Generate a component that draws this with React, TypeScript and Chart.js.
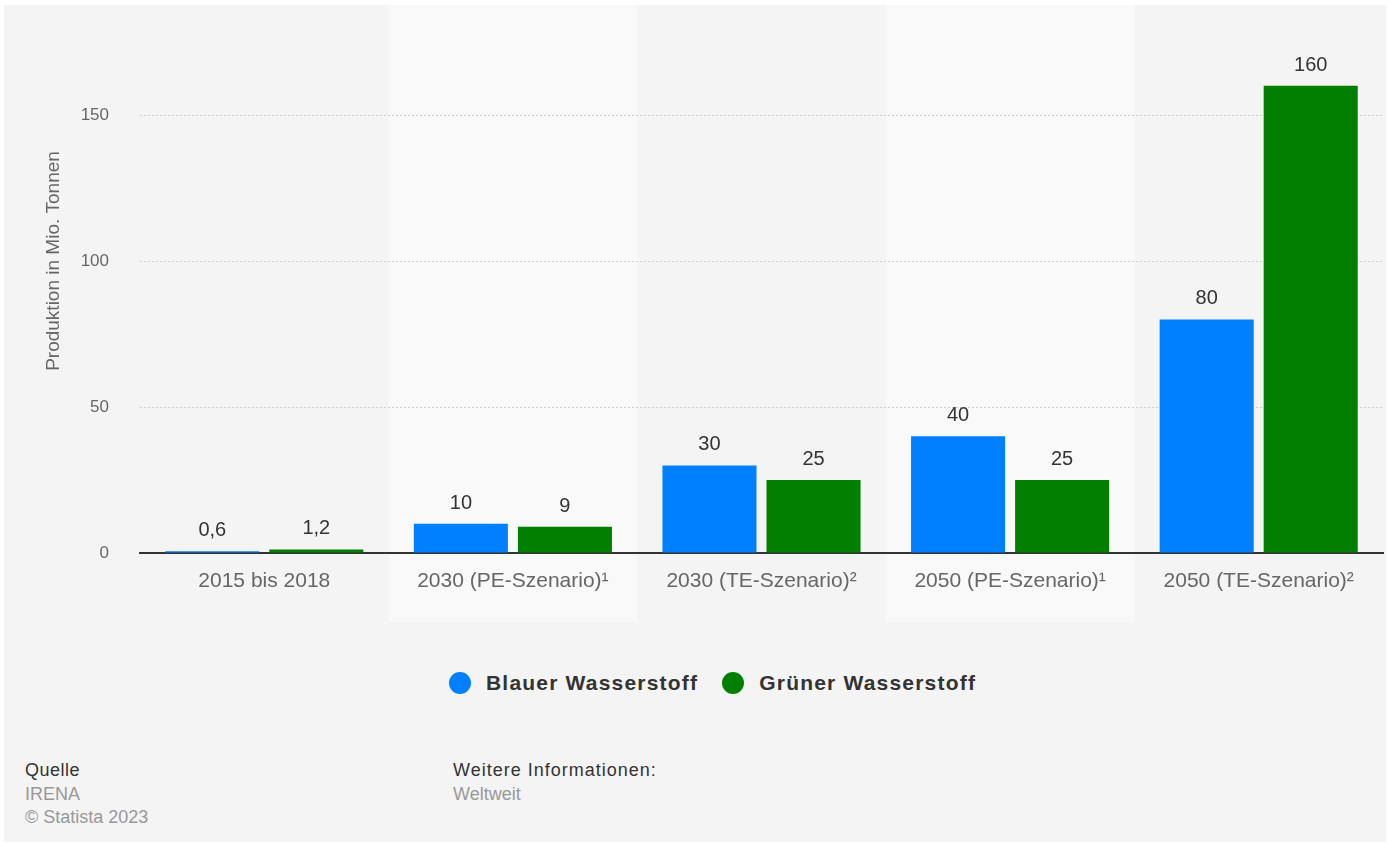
import React, { useEffect, useRef } from "react";
import { Chart, registerables } from "chart.js";

Chart.register(...registerables);

const categories = [
  "2015 bis 2018",
  "2030 (PE-Szenario)¹",
  "2030 (TE-Szenario)²",
  "2050 (PE-Szenario)¹",
  "2050 (TE-Szenario)²",
];
const blueValues = [0.6, 10, 30, 40, 80];
const greenValues = [1.2, 9, 25, 25, 160];
const yTickValues = [0, 50, 100, 150];
const seriesNames = ["Blauer Wasserstoff", "Grüner Wasserstoff"];
const seriesColors = ["#007fff", "#007f00"];
const yTitle = "Produktion in Mio. Tonnen";

const FONT = "'Liberation Sans', Arial, Helvetica, sans-serif";

const fmt = (v: number) => String(v).replace(".", ",");

const bandsPlugin = {
  id: "bands",
  beforeDraw(chart: any) {
    const { ctx, chartArea, scales } = chart;
    const x = scales.x;
    const n = categories.length;
    const w = (chartArea.right - chartArea.left) / n;
    ctx.save();
    for (let i = 0; i < n; i++) {
      if (i % 2 === 1) {
        const cx = x.getPixelForValue(i);
        ctx.fillStyle = "#f9f9f9";
        ctx.fillRect(cx - w / 2, 5, w, chartArea.bottom + 69 - 5);
      }
    }
    ctx.restore();
  },
};

const labelsPlugin = {
  id: "valueLabels",
  afterDatasetsDraw(chart: any) {
    const { ctx } = chart;
    ctx.save();
    ctx.font = `20px ${FONT}`;
    ctx.fillStyle = "#333333";
    ctx.textAlign = "center";
    ctx.textBaseline = "alphabetic";
    chart.data.datasets.forEach((ds: any, di: number) => {
      const meta = chart.getDatasetMeta(di);
      meta.data.forEach((bar: any, i: number) => {
        ctx.fillText(fmt(ds.data[i]), bar.x, bar.y - 15);
      });
    });
    ctx.restore();
  },
};

const yTitlePlugin = {
  id: "yTitle",
  afterDraw(chart: any) {
    const { ctx } = chart;
    ctx.save();
    ctx.translate(54, 261);
    ctx.rotate(-Math.PI / 2);
    ctx.font = `19px ${FONT}`;
    ctx.fillStyle = "#666666";
    ctx.textAlign = "center";
    ctx.textBaseline = "middle";
    ctx.fillText(yTitle, 0, 0);
    ctx.restore();
  },
};

function ChartCanvas() {
  const ref = useRef<HTMLCanvasElement | null>(null);
  useEffect(() => {
    if (!ref.current) return;
    const chart = new Chart(ref.current, {
      type: "bar",
      data: {
        labels: categories,
        datasets: [
          {
            label: seriesNames[0],
            data: blueValues,
            backgroundColor: seriesColors[0],
            borderWidth: 0,
            categoryPercentage: 0.837,
            barPercentage: 0.904,
          },
          {
            label: seriesNames[1],
            data: greenValues,
            backgroundColor: seriesColors[1],
            borderWidth: 0,
            categoryPercentage: 0.837,
            barPercentage: 0.904,
          },
        ],
      },
      options: {
        responsive: false,
        animation: false,
        layout: { padding: { left: 0, right: 7, top: 42, bottom: 0 } },
        plugins: {
          legend: { display: false },
          tooltip: { enabled: false },
        },
        scales: {
          x: {
            z: 1,
            grid: { display: false, drawTicks: false },
            border: { display: true, color: "#333333", width: 2 },
            ticks: {
              color: "#666666",
              font: { family: FONT, size: 21 },
              padding: 16,
              maxRotation: 0,
              autoSkip: false,
            },
            afterFit: (axis: any) => {
              axis.height = 87;
            },
          },
          y: {
            min: 0,
            max: 175,
            ticks: {
              stepSize: 50,
              color: "#666666",
              font: { family: FONT, size: 17 },
              padding: 31,
            },
            afterBuildTicks: (axis: any) => {
              axis.ticks = yTickValues.map((v) => ({ value: v }));
            },
            grid: {
              drawTicks: false,
              color: (c: any) => (c.tick && c.tick.value === 0 ? "rgba(0,0,0,0)" : "#cccccc"),
              lineWidth: 1,
            },
            border: { display: false, dash: [2, 2] },
            afterFit: (axis: any) => {
              axis.width = 140;
            },
          },
        },
      },
      plugins: [bandsPlugin, labelsPlugin, yTitlePlugin],
    });
    return () => chart.destroy();
  }, []);
  return (
    <canvas
      ref={ref}
      width={1390}
      height={640}
      style={{ position: "absolute", left: 0, top: 0, width: 1390, height: 640 }}
    />
  );
}

export default function App() {
  const textBase: React.CSSProperties = {
    position: "absolute",
    fontFamily: FONT,
    fontSize: 18,
    lineHeight: "23.5px",
    whiteSpace: "nowrap",
  };
  return (
    <div
      style={{
        position: "absolute",
        left: 0,
        top: 0,
        width: 1390,
        height: 846,
        background: "#ffffff",
        overflow: "hidden",
      }}
    >
      <div
        style={{
          position: "absolute",
          left: 4,
          top: 5,
          width: 1382,
          height: 837,
          background: "#f4f4f4",
        }}
      />
      <ChartCanvas />
      <div
        style={{
          position: "absolute",
          left: 449,
          top: 672,
          height: 22,
          display: "flex",
          alignItems: "center",
          fontFamily: FONT,
          fontWeight: "bold",
          fontSize: 21,
          lineHeight: "22px",
          letterSpacing: "1.2px",
          color: "#333333",
          whiteSpace: "nowrap",
        }}
      >
        {seriesNames.map((name, i) => (
          <div key={name} style={{ display: "flex", alignItems: "center", marginRight: i === 0 ? 24 : 0 }}>
            <span
              style={{
                display: "inline-block",
                width: 22,
                height: 22,
                borderRadius: "50%",
                background: seriesColors[i],
                marginRight: 15,
              }}
            />
            <span>{name}</span>
          </div>
        ))}
      </div>
      <div style={{ ...textBase, left: 25, top: 759, color: "#333333", letterSpacing: "0.5px" }}>Quelle</div>
      <div style={{ ...textBase, left: 25, top: 782.5, color: "#999999" }}>IRENA</div>
      <div style={{ ...textBase, left: 25, top: 806, color: "#999999" }}>© Statista 2023</div>
      <div style={{ ...textBase, left: 453, top: 759, color: "#333333", letterSpacing: "1px" }}>Weitere Informationen:</div>
      <div style={{ ...textBase, left: 453, top: 782.5, color: "#999999" }}>Weltweit</div>
    </div>
  );
}
